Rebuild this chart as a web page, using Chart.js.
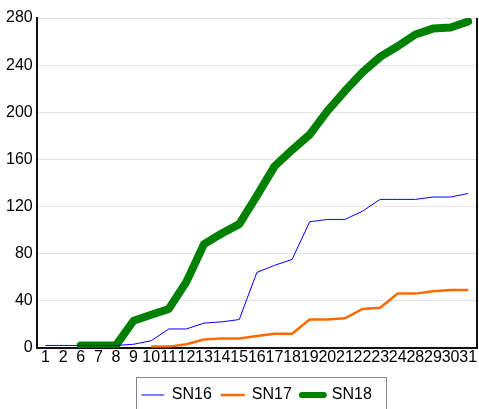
<!DOCTYPE html>
<html>
<head>
<meta charset="utf-8">
<script src="https://cdn.jsdelivr.net/npm/chart.js@4/dist/chart.umd.min.js"></script>
<style>
  html, body { margin: 0; padding: 0; background: #fff; }
  #wrap { width: 479px; height: 409px; }
</style>
</head>
<body>
<div id="wrap"><canvas id="myChart"></canvas></div>
<script>
// x labels (days) and series values
var days = ['1','2','6','7','8','9','10','11','12','13','14','15','16','17','18','19','20','21','22','23','24','28','29','30','31'];
var sn16 = [2, 2, 2, 2, 2, 3, 6, 16, 16, 21, 22, 24, 64, 70, 75, 107, 109, 109, 116, 126, 126, 126, 128, 128, 131];
var sn17 = [null, null, null, null, null, null, 1, 1, 3, 7, 8, 8, 10, 12, 12, 24, 24, 25, 33, 34, 46, 46, 48, 49, 49];
var sn18 = [null, null, 2, 2, 2, 23, 28, 33, 56, 88, 97, 105, 129, 154, 168, 181, 201, 218, 234, 247, 256, 266, 271, 272, 277];
var yTicks = [0, 40, 80, 120, 160, 200, 240, 280];

// border around the legend and the right edge of the plot
var framePlugin = {
    id: 'frame',
    afterDraw: function(chart) {
        var ctx = chart.ctx;
        var a = chart.chartArea;
        ctx.save();
        ctx.strokeStyle = '#111';
        ctx.lineWidth = 2;
        ctx.beginPath();
        ctx.moveTo(a.right, a.top);
        ctx.lineTo(a.right, a.bottom);
        ctx.stroke();

        var boxes = chart.legend.legendHitBoxes;
        if (boxes && boxes.length) {
            var left = boxes[0].left - 6;
            var mid = boxes[0].top + boxes[0].height / 2;
            ctx.strokeStyle = '#888';
            ctx.lineWidth = 1;
            ctx.strokeRect(Math.round(left) + 0.5, Math.round(mid - 18) + 0.5, 250, 36);
        }
        ctx.restore();
    }
};

var ctx = document.getElementById('myChart').getContext('2d');
var myChart = new Chart(ctx, {
    type: 'line',
    data: {
        labels: days,
        datasets: [{
            label: 'SN16',
            data: sn16,
            borderColor: '#0000ff',
            borderWidth: 1,
            pointRadius: 0,
            tension: 0
        }, {
            label: 'SN17',
            data: sn17,
            borderColor: '#ff6a00',
            borderWidth: 2.5,
            pointRadius: 0,
            tension: 0
        }, {
            label: 'SN18',
            data: sn18,
            borderColor: '#008000',
            borderWidth: 8,
            borderCapStyle: 'round',
            borderJoinStyle: 'round',
            pointRadius: 0,
            tension: 0
        }]
    },
    options: {
        responsive: true,
        maintainAspectRatio: false,
        animation: false,
        layout: { padding: { top: 18, right: 2, left: 2, bottom: -4 } },
        plugins: {
            tooltip: { enabled: false },
            legend: {
                position: 'bottom',
                fullSize: false,
                labels: {
                    font: { family: 'Liberation Sans, Arial', size: 16 },
                    color: '#000',
                    padding: 10,
                    usePointStyle: true,
                    generateLabels: function(chart) {
                        var widths = [1, 2.5, 6];
                        return chart.data.datasets.map(function(ds, i) {
                            return {
                                text: ds.label,
                                fillStyle: ds.borderColor,
                                strokeStyle: ds.borderColor,
                                lineWidth: widths[i],
                                lineCap: 'round',
                                pointStyle: 'line',
                                datasetIndex: i,
                                hidden: false
                            };
                        });
                    },
                    pointStyleWidth: 22
                }
            }
        },
        scales: {
            x: {
                offset: true,
                grid: { display: false, drawTicks: false },
                border: { color: '#111', width: 2 },
                afterFit: function(axis) { axis.height += 10; },
                ticks: {
                    autoSkip: false,
                    maxRotation: 0,
                    padding: 0,
                    color: '#000',
                    font: { family: 'Liberation Sans, Arial', size: 16 }
                }
            },
            y: {
                min: 0,
                max: 280,
                afterBuildTicks: function(axis) {
                    axis.ticks = yTicks.map(function(v) { return { value: v }; });
                },
                grid: { color: '#e4e4e4', drawTicks: false },
                border: { color: '#111', width: 2 },
                ticks: {
                    padding: 4,
                    color: '#000',
                    font: { family: 'Liberation Sans, Arial', size: 16 }
                }
            }
        }
    },
    plugins: [framePlugin]
});
</script>
</body>
</html>
